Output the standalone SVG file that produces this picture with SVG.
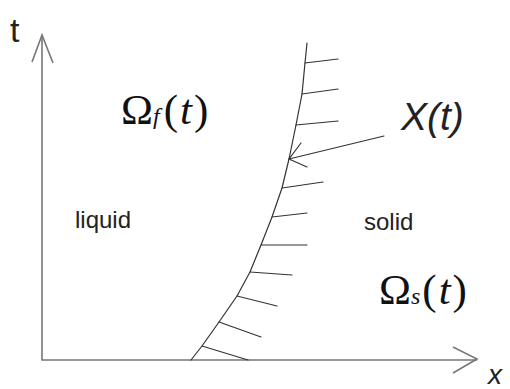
<svg xmlns="http://www.w3.org/2000/svg" width="510" height="389" viewBox="0 0 510 389">
<style>
.axis{stroke:#777;stroke-width:1.6;fill:none}
.ln{stroke:#333;stroke-width:1.2;fill:none;stroke-linecap:round;stroke-linejoin:round}
.sans{font-family:"Liberation Sans",Arial,sans-serif;fill:#222}
.serif{font-family:"Liberation Serif","DejaVu Serif","Times New Roman",serif;fill:#111}
</style>
<rect width="510" height="389" fill="#fff"/>
<g id="axes">
<polyline class="axis" points="42,35 42,360 477,360"/>
<polyline class="axis" points="32,62 42,35 53,63"/>
<polyline class="axis" points="453,347 477,359 453,373"/>
</g>
<g id="interface">
<polyline class="ln" points="191,360 202,346 219,322 237,296 250,272 261,245 272,217 282,188 289,159 296,125 302,94 305,63 307,43"/>
<g id="hatches">
<line class="ln" x1="305" y1="63" x2="338" y2="59"/>
<line class="ln" x1="302" y1="94" x2="338" y2="89"/>
<line class="ln" x1="296" y1="125" x2="338" y2="121"/>
<line class="ln" x1="282" y1="188" x2="323" y2="182"/>
<line class="ln" x1="272" y1="217" x2="307" y2="213"/>
<line class="ln" x1="261" y1="245" x2="307" y2="245"/>
<line class="ln" x1="250" y1="272" x2="292" y2="275"/>
<line class="ln" x1="237" y1="296" x2="277" y2="306"/>
<line class="ln" x1="219" y1="322" x2="261" y2="337"/>
<line class="ln" x1="202" y1="346" x2="248" y2="360"/>
</g>
</g>
<g id="connectors">
<line class="ln" x1="384" y1="136" x2="289" y2="159"/>
<polyline class="ln" points="301,143 289,159 307,167"/>
</g>
<g id="labels">
<text class="sans" x="10" y="42" font-size="34">t</text>
<text class="sans" x="488" y="384" font-size="28" font-style="italic">x</text>
<text class="sans" x="401" y="130" font-size="39" font-style="italic">X(t)</text>
<text class="sans" x="75" y="228" font-size="24">liquid</text>
<text class="sans" x="364" y="230" font-size="24">solid</text>
<text class="serif" x="121" y="124" font-size="43">Ω<tspan font-size="24" font-style="italic">f</tspan><tspan dx="4">(</tspan><tspan font-style="italic" dx="2">t</tspan><tspan dx="2">)</tspan></text>
<text class="serif" x="379" y="304" font-size="43">Ω<tspan font-size="24" font-style="italic">s</tspan><tspan dx="2">(</tspan><tspan font-style="italic" dx="2">t</tspan><tspan dx="2">)</tspan></text>
</g>
</svg>
